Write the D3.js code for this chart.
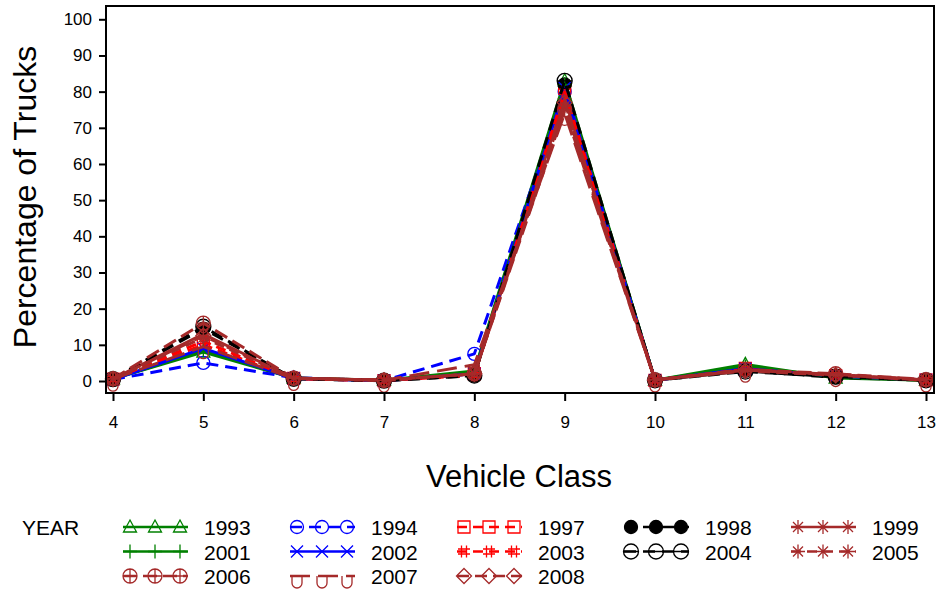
<!DOCTYPE html>
<html lang="en">
  <head>
    <meta charset="UTF-8" />
    <title>Percentage of Trucks by Vehicle Class</title>
    <script src="https://d3js.org/d3.v7.min.js"></script>
    <style>
      body {
        margin: 0;
        background: #fff;
      }
      text {
        font-family: "Liberation Sans", Arial, sans-serif;
        fill: #000;
      }
      .tick text {
        font-size: 17px;
      }
      .tick line {
        stroke: #000;
        stroke-width: 2;
      }
      .legend text {
        font-size: 21px;
      }
    </style>
  </head>
  <body>
    <svg id="chart" width="940" height="594"></svg>

    <script>
      // vehicle classes on the x axis
      var classes = [4, 5, 6, 7, 8, 9, 10, 11, 12, 13];
      var yTicks = [0, 10, 20, 30, 40, 50, 60, 70, 80, 90, 100];

      // legend order (row by row)
      var years = [1993, 1994, 1997, 1998, 1999, 2001, 2002, 2003, 2004, 2005, 2006, 2007, 2008];

      // percentage of trucks per class, one list per year
      var pct1993 = [0.6, 8.0, 0.8, 0.2, 2.8, 83.0, 0.2, 4.6, 0.8, 0.2];
      var pct1994 = [0.4, 5.0, 0.9, 0.1, 7.5, 80.0, 0.3, 3.2, 1.2, 0.3];
      var pct1997 = [0.5, 10.0, 0.7, 0.1, 2.0, 81.0, 0.2, 3.5, 1.5, 0.3];
      var pct1998 = [0.5, 14.5, 0.6, 0.1, 1.5, 82.0, 0.2, 2.8, 1.0, 0.2];
      var pct1999 = [0.6, 13.0, 0.7, 0.2, 2.0, 78.0, 0.3, 3.0, 1.6, 0.3];
      var pct2001 = [0.5, 8.5, 0.8, 0.1, 2.5, 82.0, 0.2, 4.0, 1.2, 0.2];
      var pct2002 = [0.4, 9.0, 0.7, 0.1, 2.0, 81.0, 0.2, 3.4, 1.4, 0.3];
      var pct2003 = [0.5, 11.0, 0.6, 0.1, 1.6, 80.0, 0.2, 3.2, 1.6, 0.2];
      var pct2004 = [0.5, 15.0, 0.6, 0.1, 1.5, 83.0, 0.2, 2.6, 1.2, 0.2];
      var pct2005 = [0.6, 12.0, 0.8, 0.2, 2.0, 76.0, 0.3, 3.0, 1.8, 0.3];
      var pct2006 = [0.6, 16.0, 0.8, 0.2, 2.0, 75.0, 0.3, 3.2, 2.0, 0.4];
      var pct2007 = [0.5, 9.5, 0.7, 0.2, 4.5, 74.0, 0.3, 3.0, 1.8, 0.3];
      var pct2008 = [0.6, 12.5, 0.8, 0.2, 2.0, 77.0, 0.3, 2.8, 1.6, 0.3];

      var values = [pct1993, pct1994, pct1997, pct1998, pct1999, pct2001, pct2002,
                    pct2003, pct2004, pct2005, pct2006, pct2007, pct2008];

      var green = "#008000", blue = "#0000ff", red = "#ff0000",
          black = "#000000", brown = "#a52a2a";

      // colour, marker and dash per year
      var styles = {
        1993: { color: green, marker: "triangle", dash: null },
        1994: { color: blue, marker: "circle", dash: "12,7" },
        1997: { color: red, marker: "square", dash: "10,6" },
        1998: { color: black, marker: "dot", dash: "12,7" },
        1999: { color: brown, marker: "star", dash: null },
        2001: { color: green, marker: "plus", dash: null },
        2002: { color: blue, marker: "x", dash: null },
        2003: { color: red, marker: "hash", dash: "10,6" },
        2004: { color: black, marker: "bigcircle", dash: "12,7" },
        2005: { color: brown, marker: "star", dash: "10,6" },
        2006: { color: brown, marker: "circleplus", dash: "14,6" },
        2007: { color: brown, marker: "cup", dash: "20,8" },
        2008: { color: brown, marker: "diamond", dash: "12,6" }
      };

      var series = years.map(function (yr, i) {
        return {
          year: yr,
          points: classes.map(function (c, j) {
            return { cls: c, value: values[i][j] };
          })
        };
      });

      var svg = d3.select("#chart");

      var frame = { left: 106, top: 6, right: 934, bottom: 393 };

      var x = d3.scaleLinear().domain([4, 13]).range([113, 926]);
      var y = d3.scaleLinear().domain([0, 100]).range([381, 19.3]);

      // marker shapes
      function markerPath(type) {
        switch (type) {
          case "triangle":
            return "M0,-7L6.5,5L-6.5,5Z";
          case "plus":
            return "M-7,0H7M0,-7V7";
          case "circle":
          case "dot":
            return "M-6.5,0A6.5,6.5 0 1 0 6.5,0A6.5,6.5 0 1 0 -6.5,0Z";
          case "bigcircle":
            return "M-7.5,0A7.5,7.5 0 1 0 7.5,0A7.5,7.5 0 1 0 -7.5,0ZM-7.5,0H7.5";
          case "circleplus":
            return "M-7,0A7,7 0 1 0 7,0A7,7 0 1 0 -7,0ZM-7,0H7M0,-7V7";
          case "x":
            return "M-6,-6L6,6M-6,6L6,-6";
          case "cup":
            return "M-5,0V7A5,5 0 0 0 5,7V0";
          case "square":
            return "M-6,-6H6V6H-6Z";
          case "hash":
            return "M-2.5,-6V6M2.5,-6V6M-6,-2.5H6M-6,2.5H6";
          case "diamond":
            return "M0,-7.5L7.5,0L0,7.5L-7.5,0Z";
          case "star":
            return "M-7,0H7M0,-7V7M-5,-5L5,5M-5,5L5,-5";
        }
      }

      function drawMarker(sel, st) {
        var filled = st.marker === "dot";
        sel
          .append("path")
          .attr("d", markerPath(st.marker))
          .attr("fill", filled ? st.color : "none")
          .attr("stroke", st.color)
          .attr("stroke-width", 1.3);
      }

      // Y axis
      svg
        .append("g")
        .attr("transform", "translate(" + frame.left + ",0)")
        .call(d3.axisLeft(y).tickValues(yTicks).tickSize(7).tickPadding(7))
        .call(function (g) {
          g.select(".domain").remove();
        });

      // X axis
      svg
        .append("g")
        .attr("transform", "translate(0," + frame.bottom + ")")
        .call(d3.axisBottom(x).tickValues(classes).tickSize(8).tickPadding(15).tickFormat(d3.format("d")))
        .call(function (g) {
          g.select(".domain").remove();
        });

      // lines
      var line = d3
        .line()
        .x(function (d) { return x(d.cls); })
        .y(function (d) { return y(d.value); });

      var plot = svg.append("g");

      series.forEach(function (s) {
        var st = styles[s.year];
        var g = plot.append("g");
        g.append("path")
          .datum(s.points)
          .attr("d", line)
          .attr("fill", "none")
          .attr("stroke", st.color)
          .attr("stroke-width", 3)
          .attr("stroke-linejoin", "round")
          .attr("stroke-dasharray", st.dash);
        g.selectAll(".pt")
          .data(s.points)
          .enter()
          .append("g")
          .attr("class", "pt")
          .attr("transform", function (d) {
            return "translate(" + x(d.cls) + "," + y(d.value) + ")";
          })
          .each(function () {
            drawMarker(d3.select(this), st);
          });
      });

      // frame
      svg
        .append("rect")
        .attr("x", frame.left)
        .attr("y", frame.top)
        .attr("width", frame.right - frame.left)
        .attr("height", frame.bottom - frame.top)
        .attr("fill", "none")
        .attr("stroke", "#000")
        .attr("stroke-width", 2);

      // axis titles
      svg
        .append("text")
        .attr("text-anchor", "middle")
        .attr("x", 519)
        .attr("y", 487)
        .style("font-size", "31px")
        .text("Vehicle Class");

      svg
        .append("text")
        .attr("text-anchor", "middle")
        .attr("transform", "translate(36,197) rotate(-90)")
        .style("font-size", "32px")
        .text("Percentage of Trucks");

      // legend
      var legend = svg.append("g").attr("class", "legend");

      legend.append("text").attr("x", 22).attr("y", 535).text("YEAR");

      var legendItems = legend
        .selectAll(".legend-item")
        .data(years)
        .enter()
        .append("g")
        .attr("class", "legend-item")
        .attr("transform", function (d, i) {
          var col = i % 5, row = Math.floor(i / 5);
          return "translate(" + (123 + col * 167) + "," + (527 + row * 24.5) + ")";
        });

      legendItems.each(function (yr) {
        var st = styles[yr];
        var item = d3.select(this);
        item
          .append("line")
          .attr("x1", 0)
          .attr("x2", 65)
          .attr("stroke", st.color)
          .attr("stroke-width", 2.5)
          .attr("stroke-dasharray", st.dash);
        [7, 32, 57].forEach(function (mx) {
          drawMarker(item.append("g").attr("transform", "translate(" + mx + ",0)"), st);
        });
        item
          .append("text")
          .attr("x", 81)
          .attr("y", 8)
          .text(yr);
      });
    </script>
  </body>
</html>
